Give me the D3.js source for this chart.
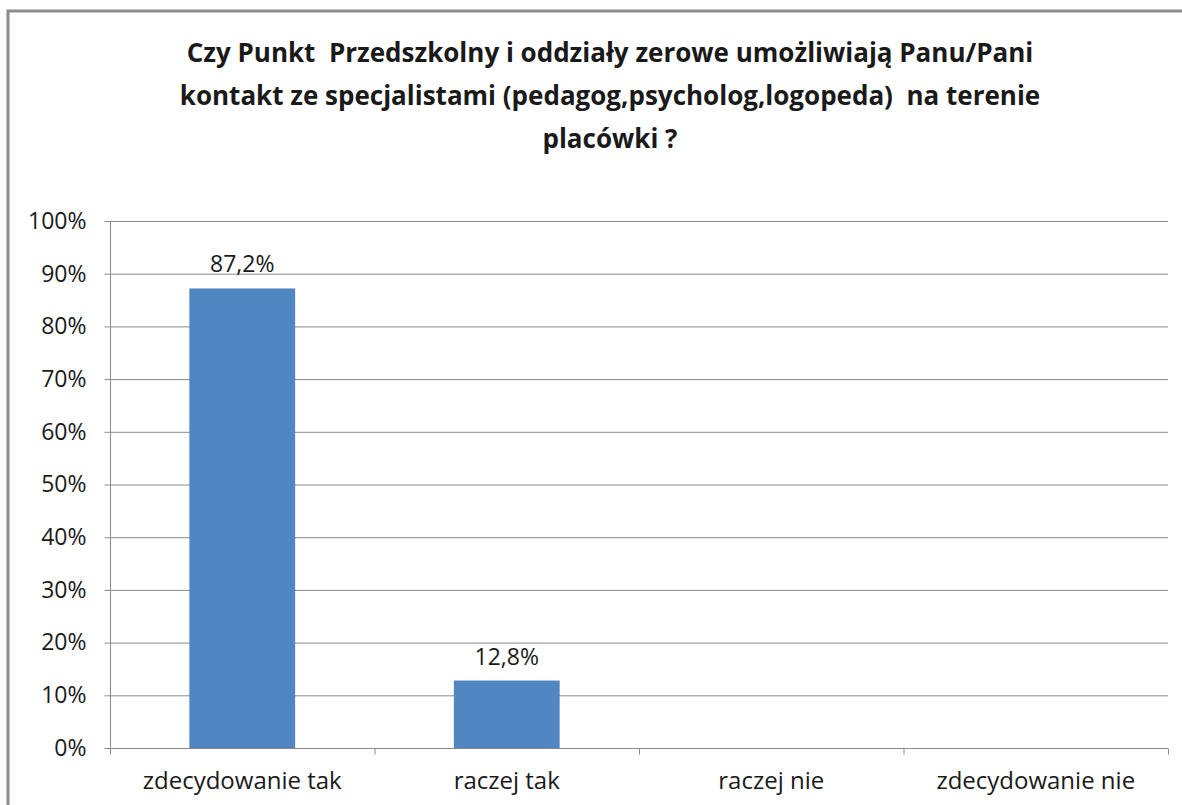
<!DOCTYPE html>
<html>
<head>
<meta charset="utf-8">
<script src="https://cdn.jsdelivr.net/npm/d3@7"></script>
<style>
  body { margin: 0; background: #fff; }
  text { font-family: "Open Sans", "Noto Sans", sans-serif; fill: #1a1a1a; }
</style>
</head>
<body>
<svg id="chart" width="1182" height="805"></svg>
<script>
const categories = ["zdecydowanie tak", "raczej tak", "raczej nie", "zdecydowanie nie"];
const values = [87.2, 12.8, null, null];
const valueLabels = ["87,2%", "12,8%", "", ""];
const yTicks = [0, 10, 20, 30, 40, 50, 60, 70, 80, 90, 100];
const titleLines = [
    "Czy Punkt  Przedszkolny i oddziały zerowe umożliwiają Panu/Pani",
    "kontakt ze specjalistami (pedagog,psycholog,logopeda)  na terenie",
    "placówki ?"
];

const svg = d3.select("#chart");
const margin = { left: 110, right: 1168, top: 221, bottom: 748 };

// chart frame (only the top and left edges are in view)
svg.append("path")
    .attr("d", "M8,805 L8,11 L1182,11")
    .attr("fill", "none")
    .attr("stroke", "#8c8c8c")
    .attr("stroke-width", 3);

// title
const title = svg.append("text")
    .attr("text-anchor", "middle")
    .attr("xml:space", "preserve")
    .style("font-weight", "bold")
    .style("font-size", "26px");
titleLines.forEach((line, i) => {
    title.append("tspan")
        .attr("x", 610)
        .attr("y", 62 + i * 43)
        .text(line);
});

const x = d3.scaleBand()
    .domain(categories)
    .range([margin.left, margin.right])
    .paddingInner(0.6)
    .paddingOuter(0.3);

const y = d3.scaleLinear()
    .domain([0, 100])
    .range([margin.bottom, margin.top]);

// gridlines
svg.append("g")
    .selectAll("line")
    .data(yTicks.filter(d => d > 0))
    .join("line")
    .attr("x1", margin.left)
    .attr("x2", margin.right)
    .attr("y1", d => y(d) + 0.5)
    .attr("y2", d => y(d) + 0.5)
    .attr("stroke", "#8a8a8a");

const barData = categories.map((c, i) => ({ c, v: values[i], label: valueLabels[i] }))
    .filter(d => d.v !== null);

// bars
svg.append("g")
    .selectAll("rect")
    .data(barData)
    .join("rect")
    .attr("x", d => x(d.c))
    .attr("width", x.bandwidth())
    .attr("y", d => y(d.v))
    .attr("height", d => y(0) - y(d.v))
    .attr("fill", "#5087c2");

// value labels
svg.append("g")
    .selectAll("text")
    .data(barData)
    .join("text")
    .attr("x", d => x(d.c) + x.bandwidth() / 2)
    .attr("y", d => y(d.v) - 16)
    .attr("text-anchor", "middle")
    .style("font-size", "23px")
    .text(d => d.label);

// y axis
const yAxis = svg.append("g")
    .attr("transform", `translate(${margin.left + 0.5},0)`)
    .call(d3.axisLeft(y).tickValues(yTicks).tickSize(6).tickPadding(18).tickFormat(d => d + "%"));
yAxis.selectAll("line, path").attr("stroke", "#8a8a8a");
yAxis.select(".domain").attr("d", `M0,${margin.top}V${margin.bottom}`);
yAxis.selectAll("text")
    .style("font-size", "23px")
    .style("font-family", "'Open Sans', sans-serif")
    .attr("fill", "#1a1a1a");

// x axis with ticks at category boundaries
const xAxis = svg.append("g")
    .attr("transform", `translate(0,${margin.bottom + 0.5})`);
xAxis.append("line")
    .attr("x1", margin.left)
    .attr("x2", margin.right)
    .attr("stroke", "#8a8a8a");
const step = (margin.right - margin.left) / categories.length;
xAxis.selectAll(".bound")
    .data(d3.range(categories.length + 1))
    .join("line")
    .attr("class", "bound")
    .attr("x1", i => margin.left + i * step + 0.5)
    .attr("x2", i => margin.left + i * step + 0.5)
    .attr("y1", 0)
    .attr("y2", 6)
    .attr("stroke", "#8a8a8a");
xAxis.selectAll(".cat")
    .data(categories)
    .join("text")
    .attr("class", "cat")
    .attr("x", d => x(d) + x.bandwidth() / 2)
    .attr("y", 40)
    .attr("text-anchor", "middle")
    .style("font-size", "24px")
    .text(d => d);
</script>
</body>
</html>
